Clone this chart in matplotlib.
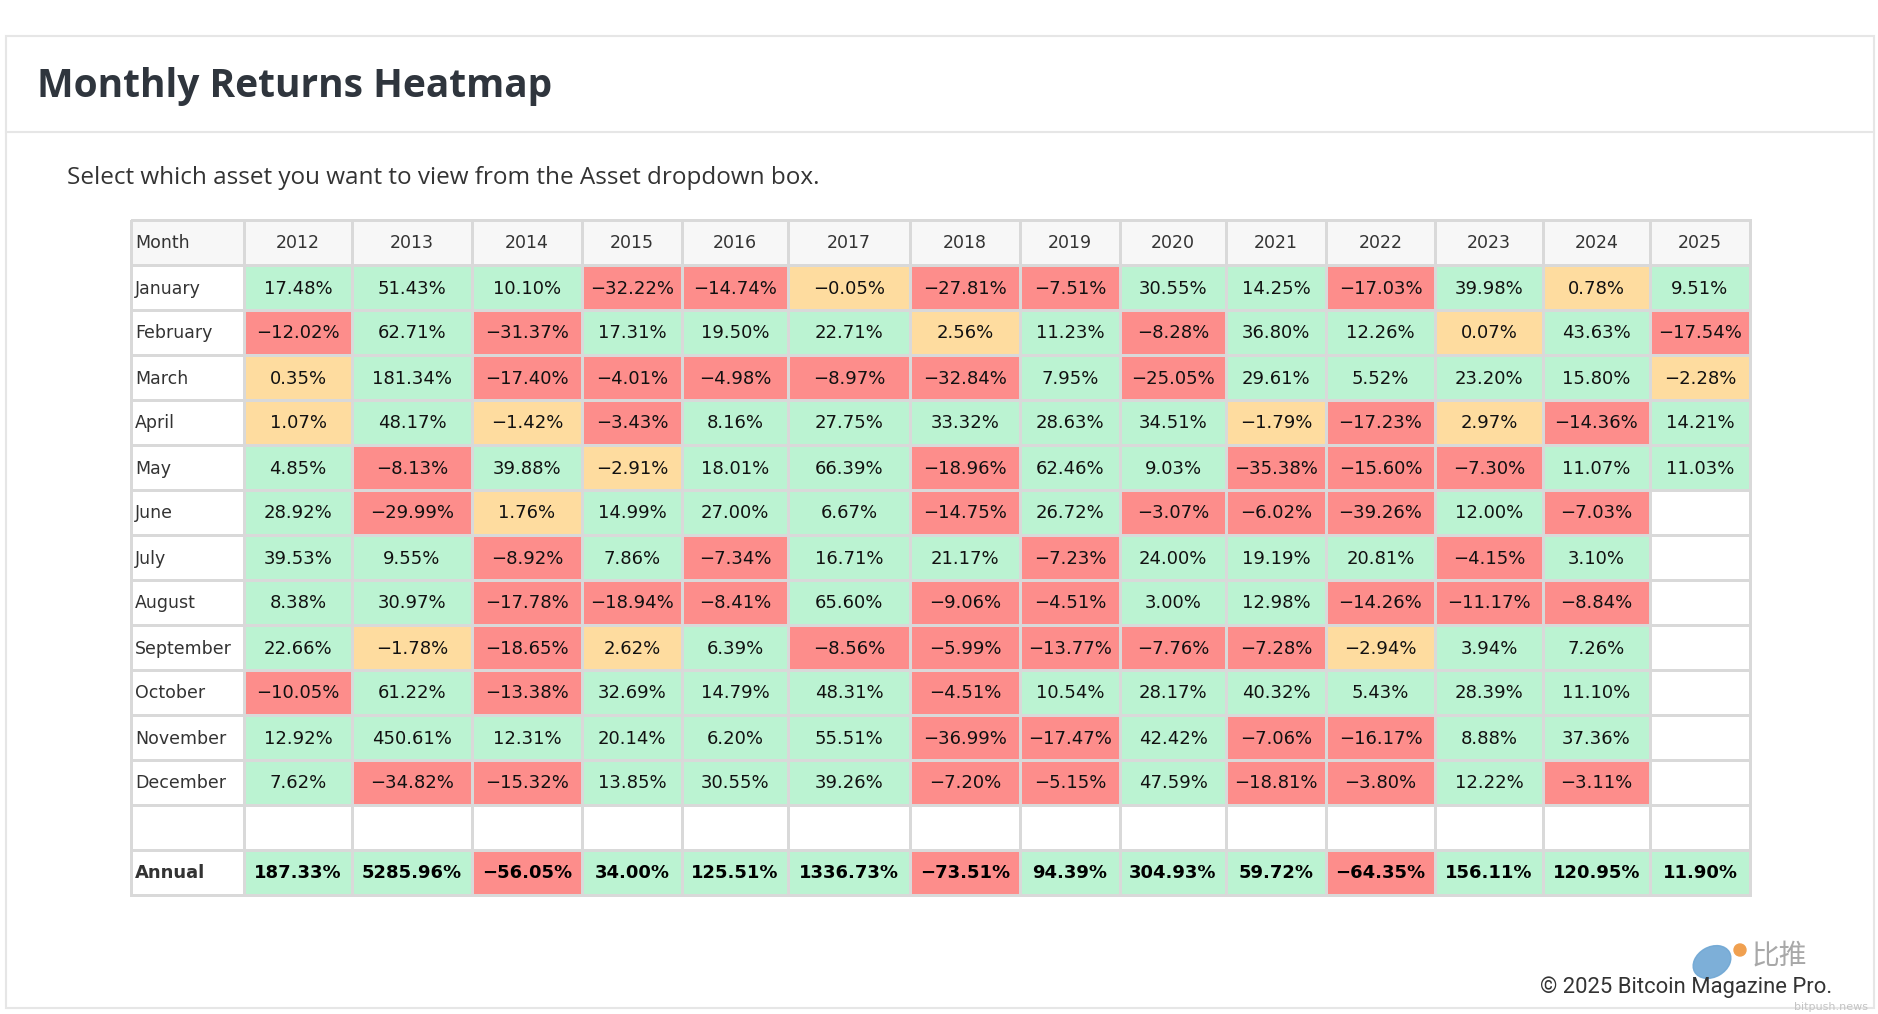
import numpy as np
import matplotlib
matplotlib.use('Agg')
import matplotlib.pyplot as plt
from matplotlib.colors import ListedColormap
from matplotlib.patches import Rectangle, Ellipse, Circle

# monthly returns (%) by year, None = not yet available
years = ['2012', '2013', '2014', '2015', '2016', '2017', '2018',
         '2019', '2020', '2021', '2022', '2023', '2024', '2025']
months = ['January', 'February', 'March', 'April', 'May', 'June', 'July',
          'August', 'September', 'October', 'November', 'December']

jan = [17.48, 51.43, 10.10, -32.22, -14.74, -0.05, -27.81, -7.51, 30.55, 14.25, -17.03, 39.98, 0.78, 9.51]
feb = [-12.02, 62.71, -31.37, 17.31, 19.50, 22.71, 2.56, 11.23, -8.28, 36.80, 12.26, 0.07, 43.63, -17.54]
mar = [0.35, 181.34, -17.40, -4.01, -4.98, -8.97, -32.84, 7.95, -25.05, 29.61, 5.52, 23.20, 15.80, -2.28]
apr = [1.07, 48.17, -1.42, -3.43, 8.16, 27.75, 33.32, 28.63, 34.51, -1.79, -17.23, 2.97, -14.36, 14.21]
may = [4.85, -8.13, 39.88, -2.91, 18.01, 66.39, -18.96, 62.46, 9.03, -35.38, -15.60, -7.30, 11.07, 11.03]
jun = [28.92, -29.99, 1.76, 14.99, 27.00, 6.67, -14.75, 26.72, -3.07, -6.02, -39.26, 12.00, -7.03, None]
jul = [39.53, 9.55, -8.92, 7.86, -7.34, 16.71, 21.17, -7.23, 24.00, 19.19, 20.81, -4.15, 3.10, None]
aug = [8.38, 30.97, -17.78, -18.94, -8.41, 65.60, -9.06, -4.51, 3.00, 12.98, -14.26, -11.17, -8.84, None]
sep = [22.66, -1.78, -18.65, 2.62, 6.39, -8.56, -5.99, -13.77, -7.76, -7.28, -2.94, 3.94, 7.26, None]
octo = [-10.05, 61.22, -13.38, 32.69, 14.79, 48.31, -4.51, 10.54, 28.17, 40.32, 5.43, 28.39, 11.10, None]
nov = [12.92, 450.61, 12.31, 20.14, 6.20, 55.51, -36.99, -17.47, 42.42, -7.06, -16.17, 8.88, 37.36, None]
dec = [7.62, -34.82, -15.32, 13.85, 30.55, 39.26, -7.20, -5.15, 47.59, -18.81, -3.80, 12.22, -3.11, None]
annual = [187.33, 5285.96, -56.05, 34.00, 125.51, 1336.73, -73.51, 94.39, 304.93, 59.72, -64.35, 156.11, 120.95, 11.90]

monthly = [jan, feb, mar, apr, may, jun, jul, aug, sep, octo, nov, dec]

# layout (pixels on an 1878x1014 canvas)
W, H = 1878, 1014
col_w = [113, 108, 120, 110, 100, 106, 122, 110, 100, 106, 100, 109, 108, 107, 100]
row_h = 45
x0, y0 = 131, 220

GREEN, RED, YELLOW = '#bbf3d2', '#fd8d8b', '#fedc9f'
HEAD, WHITE, GRID = '#f7f7f7', '#ffffff', '#d9d9d9'


def cat(v):
    if v is None:
        return 0
    if v >= 3:
        return 3
    if v <= -3:
        return 1
    return 2


def fmt(v):
    return ('%.2f%%' % v).replace('-', '\u2212')


rows = [None] + monthly + [[None] * len(years)] + [annual]
nrows = len(rows)
C = np.zeros((nrows, len(col_w)))
C[0, :] = 4
for i, r in enumerate(rows[1:], start=1):
    for j, v in enumerate(r):
        C[i, j + 1] = cat(v)

xe = x0 + np.concatenate([[0], np.cumsum(col_w)])
ye = y0 + row_h * np.arange(nrows + 1)

fig = plt.figure(figsize=(W / 100, H / 100), dpi=100)
ax = fig.add_axes([0, 0, 1, 1])
ax.set_xlim(0, W)
ax.set_ylim(H, 0)
ax.axis('off')

# card
ax.add_patch(Rectangle((6, 36), 1868, 972, facecolor='white', edgecolor='#e6e6e6', lw=1.5, zorder=0))
ax.plot([6, 1874], [132, 132], color='#e6e6e6', lw=1.5, zorder=1)

ax.text(37, 86, 'Monthly Returns Heatmap', fontsize=28, fontweight='bold',
        family='Open Sans', color='#2f353d', va='center', ha='left')
ax.text(67, 178, 'Select which asset you want to view from the Asset dropdown box.',
        fontsize=17.5, family='Open Sans', color='#333333', va='center', ha='left')

cmap = ListedColormap([WHITE, RED, YELLOW, GREEN, HEAD])
ax.pcolormesh(xe, ye, C, cmap=cmap, vmin=-0.5, vmax=4.5,
              edgecolors=GRID, linewidth=2, zorder=2)

cx = (xe[:-1] + xe[1:]) / 2
cy = (ye[:-1] + ye[1:]) / 2 + 1

ax.text(xe[0] + 4, cy[0], 'Month', fontsize=12.5, color='#333333', va='center', ha='left', zorder=3)
for j, yr in enumerate(years):
    ax.text(cx[j + 1], cy[0], yr, fontsize=12.5, color='#333333', va='center', ha='center', zorder=3)

for i, m in enumerate(months):
    ax.text(xe[0] + 4, cy[i + 1], m, fontsize=12.5, color='#333333', va='center', ha='left', zorder=3)
    for j, v in enumerate(monthly[i]):
        if v is not None:
            ax.text(cx[j + 1], cy[i + 1], fmt(v), fontsize=13, color='#111111',
                    va='center', ha='center', zorder=3)

ia = nrows - 1
ax.text(xe[0] + 4, cy[ia], 'Annual', fontsize=13, fontweight='bold', color='#333333',
        va='center', ha='left', zorder=3)
for j, v in enumerate(annual):
    ax.text(cx[j + 1], cy[ia], fmt(v), fontsize=13, fontweight='bold', color='#000000',
            va='center', ha='center', zorder=3)

# watermark + credit
ax.add_patch(Ellipse((1712, 962), 40, 30, angle=-30, color='#6fa7d4', alpha=0.9, zorder=4))
ax.add_patch(Circle((1740, 950), 6, color='#f0a050', zorder=4))
ax.text(1752, 955, '\u6bd4\u63a8', fontsize=20, family='Noto Sans CJK SC', color='#a8a8a8',
        va='center', ha='left', zorder=4)
ax.text(1868, 1007, 'bitpush.news', fontsize=8, color='#c4c4c4', va='center', ha='right', zorder=4)
ax.text(1540, 987, '\u00a9 2025 Bitcoin Magazine Pro.', fontsize=15.8, family='Roboto',
        color='#333333', va='center', ha='left', zorder=5)

fig.savefig('out.png', dpi=100)
